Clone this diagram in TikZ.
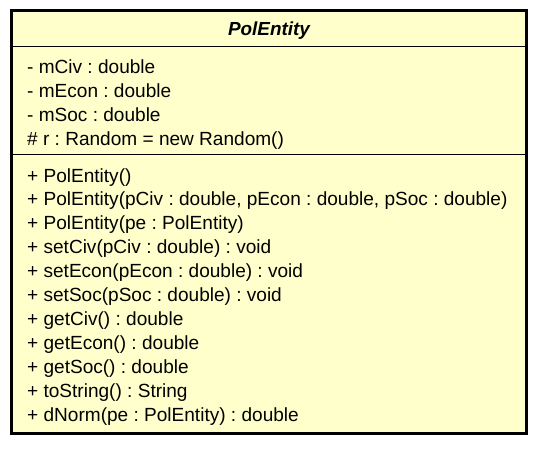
\documentclass[tikz,border=0pt]{standalone}
\usepackage{fontspec}
\setmainfont{Liberation Sans}
\definecolor{umlfill}{HTML}{FFFFCC}
\frenchspacing
\begin{document}
\begin{tikzpicture}[x=1pt,y=-1pt,
  member/.style={anchor=base west, inner sep=0pt, font=\fontsize{19.05}{22}\selectfont},
  titletext/.style={anchor=base, inner sep=0pt, font=\fontsize{18.9}{22}\selectfont\bfseries\itshape},
  classbox/.style={draw=black, line width=3pt, fill=umlfill},
  sepline/.style={draw=black, line width=1pt}]
\useasboundingbox (0,0) rectangle (538,453);
\draw[classbox] (11.5,10.5) rectangle (526.5,433.5);
\draw[sepline] (13,46) -- (525,46);
\draw[sepline] (13,154) -- (525,154);
\node[titletext] (title) at (269,35.5) {PolEntity};
\node[member] (a1) at (27,73.5) {- mCiv : double};
\node[member] (a2) at (27,97.4) {- mEcon : double};
\node[member] (a3) at (27,121.3) {- mSoc : double};
\node[member] (a4) at (27,145.2) {\# r : Random = new Random()};
\node[member] (m1) at (27,182) {+ PolEntity()};
\node[member] (m2) at (27,205.9) {+ PolEntity(pCiv : double, pEcon : double, pSoc : double)};
\node[member] (m3) at (27,229.8) {+ PolEntity(pe : PolEntity)};
\node[member] (m4) at (27,253.7) {+ setCiv(pCiv : double) : void};
\node[member] (m5) at (27,277.6) {+ setEcon(pEcon : double) : void};
\node[member] (m6) at (27,301.5) {+ setSoc(pSoc : double) : void};
\node[member] (m7) at (27,325.4) {+ getCiv() : double};
\node[member] (m8) at (27,349.3) {+ getEcon() : double};
\node[member] (m9) at (27,373.2) {+ getSoc() : double};
\node[member] (m10) at (27,397.1) {+ toString() : String};
\node[member] (m11) at (27,421) {+ dNorm(pe : PolEntity) : double};
\end{tikzpicture}
\end{document}
